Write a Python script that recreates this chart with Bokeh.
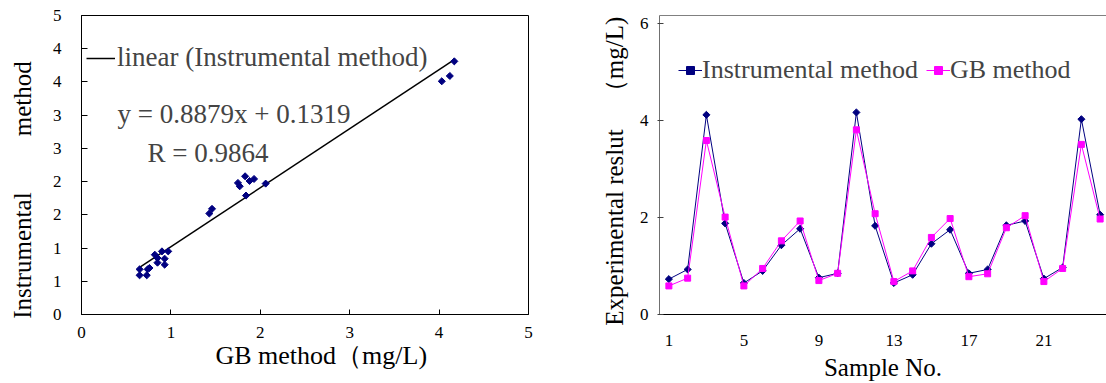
import math
from bokeh.plotting import figure
from bokeh.models import (ColumnDataSource, Range1d, FixedTicker, LinearAxis,
                          Legend, LegendItem, Label)
from bokeh.layouts import row
from bokeh.embed import file_html
from bokeh.resources import INLINE

# ---------------- data ----------------
samples = list(range(1, 25))
instrumental = [0.73, 0.93, 4.12, 1.88, 0.65, 0.90, 1.43, 1.77, 0.76, 0.85, 4.17, 1.83,
                0.65, 0.82, 1.46, 1.75, 0.85, 0.93, 1.84, 1.93, 0.74, 0.97, 4.03, 2.06]
gb_method = [0.59, 0.75, 3.59, 2.01, 0.59, 0.95, 1.52, 1.93, 0.70, 0.85, 3.81, 2.08,
             0.68, 0.90, 1.59, 1.98, 0.78, 0.84, 1.79, 2.04, 0.68, 0.95, 3.51, 1.97]
fit_slope = 0.8879
fit_intercept = 0.1319
fit_r = 0.9864

left_x_ticks = [0, 1, 2, 3, 4, 5]
left_y_ticks = [0, 0.5, 1, 1.5, 2, 2.5, 3, 3.5, 4, 4.5]
left_y_tick_labels = ["0", "1", "1", "2", "2", "3", "3", "4", "4", "5"]
right_x_ticks = [1, 5, 9, 13, 17, 21]
right_y_ticks = [0, 2, 4, 6]

FONT = "Liberation Serif"
NAVY = "#000080"
MAGENTA = "#FF00FF"
TICK_SIZE = "17px"
NBSP = "\u00a0"

src = ColumnDataSource(dict(sample=samples, instrumental=instrumental, gb=gb_method))


def base_style(p):
    p.xgrid.visible = False
    p.ygrid.visible = False
    p.background_fill_color = "white"
    p.border_fill_color = "white"
    p.axis.minor_tick_line_color = None
    p.axis.major_label_text_font = FONT
    p.axis.major_label_text_font_size = TICK_SIZE
    p.axis.major_label_text_color = "black"
    p.axis.axis_label_text_font = FONT
    p.axis.axis_label_text_font_style = "normal"
    p.axis.axis_label_text_color = "black"


# ---------------- left: scatter + fit ----------------
p1 = figure(width=594, height=383, x_range=Range1d(0, 5), y_range=Range1d(0, 4.5),
            output_backend="svg", toolbar_location=None,
            min_border_left=81, min_border_right=66, min_border_top=13, min_border_bottom=69)
base_style(p1)
p1.outline_line_color = "black"
p1.outline_line_width = 1
p1.xaxis.ticker = FixedTicker(ticks=left_x_ticks)
p1.yaxis.ticker = FixedTicker(ticks=left_y_ticks)
p1.yaxis.major_label_overrides = {t: s for t, s in zip(left_y_ticks, left_y_tick_labels)}
p1.axis.axis_line_color = "black"
p1.axis.major_tick_line_color = "black"
p1.xaxis.major_tick_in = 5
p1.xaxis.major_tick_out = 0
p1.xaxis.major_label_standoff = 12
p1.yaxis.major_tick_in = 6
p1.yaxis.major_tick_out = 0
p1.yaxis.major_label_standoff = 20

p1.xaxis.axis_label = NBSP * 5 + "GB method（mg/L)"
p1.xaxis.axis_label_text_font_size = "26px"
p1.xaxis.axis_label_standoff = 0
p1.yaxis.axis_label = "Instrumental" + NBSP * 9 + "method" + NBSP * 8
p1.yaxis.axis_label_text_font_size = "25px"
p1.yaxis.axis_label_standoff = 14

fit_x = [min(instrumental), max(instrumental)]
fit_y = [fit_slope * v + fit_intercept for v in fit_x]
fit_line = p1.line(fit_x, fit_y, line_color="black", line_width=1.5)
p1.scatter(x="instrumental", y="gb", source=src, marker="square", angle=math.pi / 4,
           size=5, fill_color=NAVY, line_color=NAVY)

leg1 = Legend(items=[LegendItem(label="linear (Instrumental method)", renderers=[fit_line])],
              location=(5, 241), glyph_width=29, glyph_height=20, label_height=20,
              label_standoff=2, padding=0, margin=0, border_line_color=None,
              background_fill_alpha=0, label_text_font=FONT, label_text_font_size="27px")
p1.add_layout(leg1)

p1.add_layout(Label(x=36, y=201, x_units="screen", y_units="screen",
                    text=f"y = {fit_slope}x + {fit_intercept}", text_font=FONT,
                    text_font_size="27px", text_baseline="middle"))
p1.add_layout(Label(x=66, y=162, x_units="screen", y_units="screen",
                    text=f"R = {fit_r}", text_font=FONT,
                    text_font_size="27px", text_baseline="middle"))

# ---------------- right: line chart ----------------
p2 = figure(width=512, height=383, x_range=Range1d(0.5, 24.34), y_range=Range1d(0, 6.17),
            output_backend="svg", toolbar_location=None,
            min_border_left=65, min_border_right=0, min_border_top=15, min_border_bottom=69)
base_style(p2)
p2.outline_line_color = None
p2.xaxis.ticker = FixedTicker(ticks=right_x_ticks)
p2.yaxis.ticker = FixedTicker(ticks=right_y_ticks)
p2.xaxis.axis_line_color = "black"
p2.xaxis.major_tick_line_color = None
p2.xaxis.major_label_standoff = 14
p2.yaxis.axis_line_color = "#707070"
p2.yaxis.major_tick_line_color = "#404040"
p2.yaxis.major_tick_in = 4
p2.yaxis.major_tick_out = 2
p2.yaxis.major_label_standoff = 9

p2.xaxis.axis_label = "Sample No."
p2.xaxis.axis_label_text_font_size = "25px"
p2.xaxis.axis_label_standoff = 5
p2.yaxis.axis_label = "Experimental reslut" + "\u3000" + "（mg/L)" + NBSP * 2
p2.yaxis.axis_label_text_font_size = "25px"
p2.yaxis.axis_label_standoff = 9

top_axis = LinearAxis(ticker=FixedTicker(ticks=[]), axis_line_color="#808080",
                      major_tick_line_color=None, minor_tick_line_color=None,
                      major_label_text_font_size="0px")
p2.add_layout(top_axis, "above")

l_instr = p2.line(x="sample", y="instrumental", source=src, line_color=NAVY, line_width=1)
s_instr = p2.scatter(x="sample", y="instrumental", source=src, marker="square",
                     angle=math.pi / 4, size=5, fill_color=NAVY, line_color=NAVY)
l_gb = p2.line(x="sample", y="gb", source=src, line_color=MAGENTA, line_width=1)
s_gb = p2.scatter(x="sample", y="gb", source=src, marker="square", size=6,
                  fill_color=MAGENTA, line_color=MAGENTA)

leg2 = Legend(items=[LegendItem(label="Instrumental method", renderers=[l_instr, s_instr]),
                     LegendItem(label="GB method", renderers=[l_gb, s_gb])],
              orientation="horizontal", location=(19, 229), glyph_width=24, glyph_height=20,
              label_height=20, label_standoff=0, spacing=8, padding=0, margin=0,
              border_line_color=None, background_fill_alpha=0,
              label_text_font=FONT, label_text_font_size="26px")
p2.add_layout(leg2)

layout = row(p1, p2)
open("out.html", "w").write(file_html(layout, INLINE))
